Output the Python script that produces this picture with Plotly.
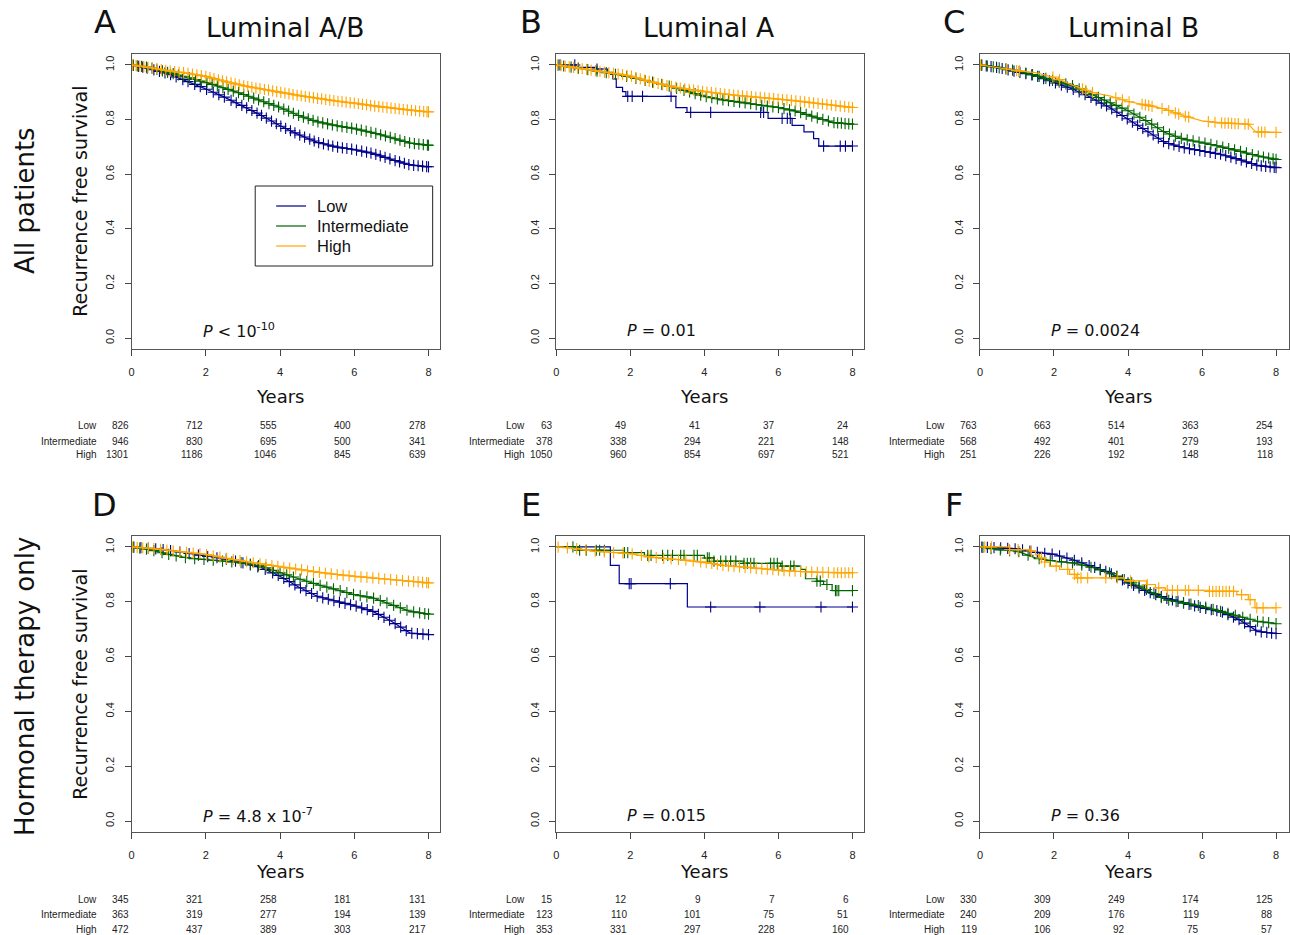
import numpy as np
import plotly.graph_objects as go

W, H = 1290, 935
BLUE, GREEN, ORANGE = '#00008B', '#006400', '#FFA500'
TF = 'DejaVu Sans'
SF = 'Liberation Sans, Arial, sans-serif'

GROUPS = ['Low', 'Intermediate', 'High']
RISK_T = [0, 2, 4, 6, 8]
YT = [0, 0.2, 0.4, 0.6, 0.8, 1.0]
YTT = ['0.0', '0.2', '0.4', '0.6', '0.8', '1.0']
T17 = [0, 0.5, 1, 1.5, 2, 2.5, 3, 3.5, 4, 4.5, 5, 5.5, 6, 6.5, 7, 7.5, 8]

# ---------------- Panel A : Luminal A/B, all patients ----------------
A_low_t = T17
A_low_s = [1, 0.986, 0.967, 0.94, 0.912, 0.882, 0.85, 0.815, 0.777, 0.745, 0.717, 0.70, 0.69, 0.676, 0.654, 0.634, 0.627]
A_low_c = [0.05, 0.18, 0.3, 0.42, 0.6, 0.75, 0.9, 1.05, 1.2, 1.38, 1.52, 1.7, 1.85, 2.02, 2.2, 2.35, 2.5, 2.68, 2.82, 2.97,
           3.1, 3.24, 3.38, 3.5, 3.63, 3.77, 3.9, 4.02, 4.15, 4.28, 4.4, 4.53, 4.66, 4.8, 4.92, 5.04, 5.17, 5.3, 5.42, 5.55,
           5.68, 5.8, 5.93, 6.06, 6.2, 6.33, 6.45, 6.58, 6.7, 6.83, 6.96, 7.1, 7.22, 7.35, 7.47, 7.6, 7.72, 7.84, 7.95, 8.0]
A_int_t = T17
A_int_s = [1, 0.99, 0.972, 0.955, 0.936, 0.915, 0.893, 0.868, 0.844, 0.815, 0.792, 0.778, 0.767, 0.752, 0.734, 0.714, 0.706]
A_int_c = [0.04, 0.15, 0.27, 0.4, 0.55, 0.68, 0.83, 0.97, 1.12, 1.26, 1.4, 1.56, 1.72, 1.88, 2.03, 2.17, 2.31, 2.46, 2.6,
           2.74, 2.88, 3.02, 3.15, 3.29, 3.42, 3.56, 3.7, 3.83, 3.96, 4.1, 4.23, 4.36, 4.5, 4.63, 4.76, 4.89, 5.02, 5.15,
           5.28, 5.41, 5.54, 5.67, 5.8, 5.93, 6.06, 6.19, 6.32, 6.45, 6.58, 6.71, 6.84, 6.97, 7.1, 7.23, 7.36, 7.49, 7.62,
           7.74, 7.86, 7.97, 8.0]
A_high_t = T17
A_high_s = [1, 0.99, 0.978, 0.97, 0.958, 0.94, 0.924, 0.912, 0.90, 0.888, 0.878, 0.868, 0.86, 0.85, 0.842, 0.834, 0.828]
A_high_c = [0.03, 0.12, 0.22, 0.33, 0.44, 0.56, 0.68, 0.8, 0.92, 1.04, 1.16, 1.28, 1.4, 1.52, 1.64, 1.76, 1.88, 2.0, 2.11,
            2.22, 2.34, 2.45, 2.56, 2.68, 2.79, 2.9, 3.02, 3.13, 3.24, 3.35, 3.46, 3.58, 3.69, 3.8, 3.91, 4.02, 4.13, 4.24,
            4.35, 4.46, 4.57, 4.68, 4.79, 4.9, 5.01, 5.12, 5.23, 5.34, 5.45, 5.56, 5.67, 5.78, 5.89, 6.0, 6.11, 6.22, 6.33,
            6.44, 6.55, 6.66, 6.77, 6.88, 6.99, 7.1, 7.21, 7.32, 7.43, 7.54, 7.65, 7.76, 7.87, 7.96, 8.0]
A_risk_low = [826, 712, 555, 400, 278]
A_risk_int = [946, 830, 695, 500, 341]
A_risk_high = [1301, 1186, 1046, 845, 639]

# ---------------- Panel B : Luminal A, all patients ----------------
B_low_t = [0, 0.58, 1.08, 1.39, 1.53, 1.62, 1.79, 1.88, 3.23, 3.53, 5.72, 6.37, 6.69, 6.95, 7.09, 8.0]
B_low_s = [1, 0.991, 0.985, 0.973, 0.949, 0.918, 0.902, 0.885, 0.844, 0.826, 0.804, 0.779, 0.755, 0.73, 0.703, 0.703]
B_low_c = [0.1, 0.5, 1.1, 1.93, 2.05, 2.33, 3.10, 3.63, 4.17, 5.52, 5.6, 6.10, 6.24, 6.32, 7.22, 7.67, 7.81, 8.0]
B_int_t = T17
B_int_s = [1, 0.99, 0.98, 0.968, 0.955, 0.94, 0.924, 0.905, 0.885, 0.872, 0.863, 0.853, 0.844, 0.83, 0.808, 0.789, 0.783]
B_int_c = [0.05, 0.2, 0.4, 0.6, 0.85, 1.1, 1.35, 1.6, 1.9, 2.15, 2.4, 2.6, 2.85, 3.05, 3.25, 3.45, 3.6, 3.75, 3.9, 4.05,
           4.2, 4.35, 4.5, 4.65, 4.8, 4.95, 5.1, 5.25, 5.4, 5.55, 5.7, 5.85, 6.0, 6.15, 6.3, 6.45, 6.6, 6.75, 6.9, 7.05,
           7.2, 7.35, 7.5, 7.6, 7.7, 7.8, 7.9, 8.0]
B_high_t = T17
B_high_s = [1, 0.99, 0.98, 0.97, 0.96, 0.94, 0.924, 0.912, 0.902, 0.894, 0.887, 0.881, 0.875, 0.868, 0.86, 0.852, 0.844]
B_high_c = [0.03, 0.13, 0.24, 0.35, 0.47, 0.58, 0.7, 0.82, 0.94, 1.06, 1.18, 1.3, 1.42, 1.55, 1.67, 1.79, 1.91, 2.03,
            2.15, 2.27, 2.39, 2.51, 2.63, 2.75, 2.87, 2.99, 3.11, 3.23, 3.35, 3.47, 3.59, 3.71, 3.83, 3.95, 4.07, 4.19,
            4.31, 4.43, 4.55, 4.67, 4.79, 4.91, 5.03, 5.15, 5.27, 5.39, 5.51, 5.63, 5.75, 5.87, 5.99, 6.11, 6.23, 6.35,
            6.47, 6.59, 6.71, 6.83, 6.95, 7.07, 7.19, 7.31, 7.43, 7.55, 7.67, 7.79, 7.9, 8.0]
B_risk_low = [63, 49, 41, 37, 24]
B_risk_int = [378, 338, 294, 221, 148]
B_risk_high = [1050, 960, 854, 697, 521]

# ---------------- Panel C : Luminal B, all patients ----------------
C_low_t = T17
C_low_s = [1, 0.99, 0.975, 0.961, 0.936, 0.912, 0.881, 0.844, 0.801, 0.759, 0.716, 0.697, 0.685, 0.673, 0.654, 0.632, 0.624]
C_low_c = [0.05, 0.17, 0.3, 0.45, 0.6, 0.76, 0.92, 1.08, 1.24, 1.4, 1.56, 1.72, 1.88, 2.04, 2.2, 2.36, 2.52, 2.68, 2.84,
           3.0, 3.14, 3.28, 3.42, 3.56, 3.7, 3.84, 3.98, 4.12, 4.26, 4.4, 4.54, 4.68, 4.82, 4.96, 5.1, 5.24, 5.38, 5.52,
           5.66, 5.8, 5.94, 6.08, 6.22, 6.36, 6.5, 6.64, 6.78, 6.92, 7.06, 7.2, 7.34, 7.48, 7.6, 7.72, 7.84, 7.95, 8.0]
C_int_t = T17
C_int_s = [1, 0.99, 0.978, 0.962, 0.942, 0.924, 0.893, 0.863, 0.832, 0.795, 0.753, 0.728, 0.716, 0.701, 0.685, 0.667, 0.654]
C_int_c = [0.04, 0.2, 0.36, 0.52, 0.7, 0.88, 1.06, 1.24, 1.42, 1.6, 1.78, 1.96, 2.14, 2.32, 2.5, 2.68, 2.86, 3.04, 3.2,
           3.36, 3.52, 3.68, 3.84, 4.0, 4.16, 4.32, 4.48, 4.64, 4.8, 4.96, 5.12, 5.28, 5.44, 5.6, 5.76, 5.92, 6.08, 6.24,
           6.4, 6.56, 6.72, 6.88, 7.04, 7.2, 7.36, 7.52, 7.66, 7.8, 7.92, 8.0]
C_high_t = [0, 0.5, 1, 1.5, 2, 2.5, 3, 3.5, 4, 4.5, 5, 5.5, 6, 6.5, 7.25, 7.45, 8]
C_high_s = [1, 0.99, 0.979, 0.972, 0.955, 0.926, 0.9, 0.887, 0.866, 0.853, 0.838, 0.814, 0.795, 0.788, 0.783, 0.755, 0.753]
C_high_c = [0.02, 0.72, 0.99, 1.07, 1.97, 2.15, 2.77, 2.86, 3.04, 3.67, 3.85, 4.03, 4.38, 4.47, 4.56, 4.65, 4.92, 5.1,
            5.28, 5.37, 5.55, 5.64, 6.17, 6.35, 6.53, 6.62, 6.71, 6.8, 6.89, 6.98, 7.16, 7.25, 7.52, 7.61, 7.7, 8.0]
C_risk_low = [763, 663, 514, 363, 254]
C_risk_int = [568, 492, 401, 279, 193]
C_risk_high = [251, 226, 192, 148, 118]

# ---------------- Panel D : Luminal A/B, hormonal therapy ----------------
D_low_t = T17
D_low_s = [1, 0.995, 0.988, 0.977, 0.966, 0.957, 0.942, 0.924, 0.893, 0.854, 0.82, 0.802, 0.786, 0.765, 0.729, 0.686, 0.68]
D_low_c = [0.06, 0.25, 0.45, 0.65, 0.85, 1.05, 1.3, 1.55, 1.8, 2.05, 2.3, 2.55, 2.8, 3.0, 3.2, 3.4, 3.6, 3.8, 3.95, 4.1,
           4.25, 4.4, 4.55, 4.7, 4.85, 5.0, 5.15, 5.3, 5.45, 5.6, 5.75, 5.9, 6.05, 6.2, 6.35, 6.5, 6.65, 6.8, 6.95, 7.1,
           7.25, 7.4, 7.55, 7.7, 7.85, 8.0]
D_int_t = T17
D_int_s = [1, 0.99, 0.973, 0.96, 0.954, 0.948, 0.942, 0.93, 0.906, 0.884, 0.863, 0.845, 0.826, 0.814, 0.79, 0.765, 0.755]
D_int_c = [0.05, 0.22, 0.4, 0.6, 0.82, 1.0, 1.2, 1.45, 1.7, 1.95, 2.2, 2.45, 2.7, 2.95, 3.2, 3.42, 3.62, 3.82, 4.0, 4.18,
           4.36, 4.54, 4.72, 4.9, 5.08, 5.26, 5.44, 5.62, 5.8, 5.98, 6.16, 6.34, 6.52, 6.7, 6.88, 7.06, 7.24, 7.42, 7.6,
           7.76, 7.9, 8.0]
D_high_t = T17
D_high_s = [1, 0.995, 0.988, 0.98, 0.973, 0.96, 0.948, 0.938, 0.928, 0.918, 0.908, 0.9, 0.893, 0.887, 0.881, 0.875, 0.869]
D_high_c = [0.03, 0.15, 0.3, 0.45, 0.6, 0.78, 0.95, 1.12, 1.3, 1.48, 1.66, 1.84, 2.02, 2.2, 2.38, 2.56, 2.74, 2.92, 3.1,
            3.28, 3.46, 3.62, 3.78, 3.94, 4.1, 4.26, 4.42, 4.58, 4.74, 4.9, 5.06, 5.22, 5.38, 5.54, 5.7, 5.86, 6.02,
            6.18, 6.34, 6.5, 6.66, 6.82, 6.98, 7.14, 7.3, 7.46, 7.6, 7.72, 7.84, 7.95, 8.0]
D_risk_low = [345, 321, 258, 181, 131]
D_risk_int = [363, 319, 277, 194, 139]
D_risk_high = [472, 437, 389, 303, 217]

# ---------------- Panel E : Luminal A, hormonal therapy ----------------
E_low_t = [0, 1.46, 1.70, 3.54, 8.0]
E_low_s = [1, 0.933, 0.866, 0.781, 0.781]
E_low_c = [1.97, 2.02, 3.08, 4.17, 5.50, 7.15, 8.0]
E_int_t = [0, 0.58, 1.84, 2.38, 4.0, 4.26, 5.07, 6.06, 6.6, 6.73, 7.04, 7.22, 7.45, 8.0]
E_int_s = [1, 0.988, 0.979, 0.969, 0.96, 0.948, 0.94, 0.93, 0.918, 0.884, 0.875, 0.863, 0.841, 0.841]
E_int_c = [0.45, 0.63, 0.81, 1.08, 1.17, 1.3, 1.84, 1.93, 2.47, 2.56, 2.87, 3.01, 3.14, 3.36, 3.45, 3.72, 3.81, 4.08,
           4.13, 4.26, 4.44, 4.58, 4.71, 4.85, 5.07, 5.16, 5.25, 5.34, 5.79, 5.88, 5.97, 6.1, 6.33, 6.42, 7.04, 7.13,
           7.31, 7.54, 7.58, 7.63, 8.0]
E_high_t = T17
E_high_s = [1, 0.995, 0.985, 0.98, 0.976, 0.964, 0.957, 0.952, 0.944, 0.933, 0.927, 0.921, 0.915, 0.911, 0.908, 0.906, 0.906]
E_high_c = [0.05, 0.3, 0.55, 0.8, 1.05, 1.3, 1.55, 1.8, 2.05, 2.3, 2.5, 2.7, 2.9, 3.1, 3.3, 3.5, 3.7, 3.9, 4.05, 4.2,
            4.35, 4.5, 4.65, 4.8, 4.95, 5.1, 5.25, 5.4, 5.55, 5.7, 5.85, 6.0, 6.15, 6.3, 6.45, 6.6, 6.75, 6.9, 7.05,
            7.2, 7.35, 7.5, 7.6, 7.7, 7.8, 7.9, 8.0]
E_risk_low = [15, 12, 9, 7, 6]
E_risk_int = [123, 110, 101, 75, 51]
E_risk_high = [353, 331, 297, 228, 160]

# ---------------- Panel F : Luminal B, hormonal therapy ----------------
F_low_t = T17
F_low_s = [1, 0.997, 0.993, 0.981, 0.973, 0.954, 0.93, 0.906, 0.869, 0.838, 0.814, 0.796, 0.778, 0.765, 0.735, 0.692, 0.684]
F_low_c = [0.05, 0.2, 0.38, 0.56, 0.75, 0.95, 1.15, 1.35, 1.55, 1.75, 1.95, 2.15, 2.35, 2.55, 2.75, 2.95, 3.1, 3.25,
           3.4, 3.55, 3.7, 3.85, 4.0, 4.15, 4.3, 4.45, 4.6, 4.75, 4.9, 5.05, 5.2, 5.35, 5.5, 5.65, 5.8, 5.95, 6.1, 6.25,
           6.4, 6.55, 6.7, 6.85, 7.0, 7.15, 7.3, 7.45, 7.6, 7.75, 7.88, 8.0]
F_int_t = T17
F_int_s = [1, 0.99, 0.985, 0.96, 0.948, 0.942, 0.926, 0.906, 0.875, 0.845, 0.808, 0.796, 0.784, 0.765, 0.747, 0.729, 0.72]
F_int_c = [0.08, 0.3, 0.55, 0.8, 1.05, 1.3, 1.6, 1.9, 2.2, 2.5, 2.75, 3.0, 3.25, 3.5, 3.7, 3.9, 4.1, 4.3, 4.5, 4.7,
           4.9, 5.1, 5.3, 5.5, 5.7, 5.9, 6.1, 6.3, 6.5, 6.7, 6.9, 7.1, 7.3, 7.5, 7.65, 7.8, 8.0]
F_high_t = [0, 0.8, 1.34, 1.5, 1.61, 1.75, 1.88, 2.15, 2.42, 2.6, 3.9, 4.5, 4.74, 5.01, 6.17, 6.94, 7.25, 7.43, 8.0]
F_high_s = [1, 0.99, 0.985, 0.972, 0.96, 0.945, 0.93, 0.918, 0.9, 0.887, 0.876, 0.863, 0.851, 0.842, 0.838, 0.826, 0.808, 0.778, 0.778]
F_high_c = [0.13, 0.31, 0.8, 1.03, 1.39, 1.66, 1.75, 2.06, 2.37, 2.55, 2.64, 2.73, 2.91, 3.4, 3.71, 4.07, 4.52, 4.83,
            5.06, 5.2, 5.34, 5.55, 5.64, 5.9, 6.2, 6.29, 6.38, 6.47, 6.56, 6.65, 6.74, 6.85, 7.07, 7.3, 7.48, 7.65, 8.0]
F_risk_low = [330, 309, 249, 174, 125]
F_risk_int = [240, 209, 176, 119, 88]
F_risk_high = [119, 106, 92, 75, 57]

# ---------------- layout constants (pixels) ----------------
COL_PX = [(129, 438), (555, 864), (980, 1290)]
ROW_PX = [(54, 349), (536, 832)]
XMAX = [8.3, 8.32, 8.35]
RISK_ROWS_PX = [(425, 441, 455), (899, 914, 929)]
LABEL_RIGHT_PX = [96, 526, 947]

panels = [
    dict(letter='A', title='Luminal A/B', p='<i>P</i> < 10<sup>-10</sup>',
         curves=[(A_low_t, A_low_s, A_low_c, 'linear'), (A_int_t, A_int_s, A_int_c, 'linear'), (A_high_t, A_high_s, A_high_c, 'linear')],
         risk=[A_risk_low, A_risk_int, A_risk_high]),
    dict(letter='B', title='Luminal A', p='<i>P</i> = 0.01',
         curves=[(B_low_t, B_low_s, B_low_c, 'hv'), (B_int_t, B_int_s, B_int_c, 'linear'), (B_high_t, B_high_s, B_high_c, 'linear')],
         risk=[B_risk_low, B_risk_int, B_risk_high]),
    dict(letter='C', title='Luminal B', p='<i>P</i> = 0.0024',
         curves=[(C_low_t, C_low_s, C_low_c, 'linear'), (C_int_t, C_int_s, C_int_c, 'linear'), (C_high_t, C_high_s, C_high_c, 'linear')],
         risk=[C_risk_low, C_risk_int, C_risk_high]),
    dict(letter='D', title=None, p='<i>P</i> = 4.8 x 10<sup>-7</sup>',
         curves=[(D_low_t, D_low_s, D_low_c, 'linear'), (D_int_t, D_int_s, D_int_c, 'linear'), (D_high_t, D_high_s, D_high_c, 'linear')],
         risk=[D_risk_low, D_risk_int, D_risk_high]),
    dict(letter='E', title=None, p='<i>P</i> = 0.015',
         curves=[(E_low_t, E_low_s, E_low_c, 'hv'), (E_int_t, E_int_s, E_int_c, 'hv'), (E_high_t, E_high_s, E_high_c, 'linear')],
         risk=[E_risk_low, E_risk_int, E_risk_high]),
    dict(letter='F', title=None, p='<i>P</i> = 0.36',
         curves=[(F_low_t, F_low_s, F_low_c, 'linear'), (F_int_t, F_int_s, F_int_c, 'linear'), (F_high_t, F_high_s, F_high_c, 'hv')],
         risk=[F_risk_low, F_risk_int, F_risk_high]),
]
COLORS = [BLUE, GREEN, ORANGE]


def cens_y(t, s, c, shape):
    t = np.asarray(t, float)
    s = np.asarray(s, float)
    c = np.asarray(c, float)
    if shape == 'hv':
        idx = np.clip(np.searchsorted(t, c, side='right') - 1, 0, len(s) - 1)
        return s[idx]
    return np.interp(c, t, s)


fig = go.Figure()
annotations = []
shapes = []
layout_axes = {}

for i, pn in enumerate(panels):
    k = i + 1
    r, cidx = divmod(i, 3)
    xs = '' if k == 1 else str(k)
    xref, yref = 'x' + xs, 'y' + xs
    x0, x1 = COL_PX[cidx]
    y0, y1 = ROW_PX[r]
    layout_axes['xaxis' + xs] = dict(
        domain=[x0 / W, x1 / W], range=[0, XMAX[cidx]], anchor=yref,
        tickvals=RISK_T, ticktext=[str(v) for v in RISK_T], ticks='outside', ticklen=6,
        tickcolor='#444', showline=True, mirror=True, linecolor='#555', linewidth=1,
        showgrid=False, zeroline=False, tickfont=dict(family=SF, size=11, color='#222'),
        ticklabelstandoff=7, fixedrange=True)
    layout_axes['yaxis' + xs] = dict(
        domain=[1 - y1 / H, 1 - y0 / H], range=[-0.04, 1.04], anchor=xref,
        tickvals=YT, ticktext=YTT, tickangle=-90, ticks='outside', ticklen=6,
        tickcolor='#444', showline=True, mirror=True, linecolor='#555', linewidth=1,
        showgrid=False, zeroline=False, tickfont=dict(family=SF, size=11, color='#222'),
        ticklabelstandoff=6, fixedrange=True)

    for (t, s, c, shape), col in zip(pn['curves'], COLORS):
        fig.add_trace(go.Scatter(x=t, y=s, mode='lines', line=dict(color=col, width=1.2, shape=shape),
                                 xaxis=xref, yaxis=yref, hoverinfo='skip'))
        fig.add_trace(go.Scatter(x=c, y=cens_y(t, s, c, shape), mode='markers',
                                 marker=dict(symbol='cross-thin-open', size=8, color=col,
                                             line=dict(width=1.1, color=col)),
                                 xaxis=xref, yaxis=yref, hoverinfo='skip'))

    # P value text
    annotations.append(dict(x=2, y=0.026 if r == 0 else 0.022, xref=xref, yref=yref, text=pn['p'],
                            showarrow=False, xanchor='left', yanchor='middle', xshift=-5,
                            font=dict(family=TF, size=16, color='#111')))
    # Years
    annotations.append(dict(x=4, y=1 - (397 if r == 0 else 871) / H, xref=xref, yref='paper', text='Years',
                            showarrow=False, xanchor='center', yanchor='middle',
                            font=dict(family=TF, size=18, color='#111')))
    # panel letter
    annotations.append(dict(x=[102, 530, 954][cidx] / W, y=1 - (22 if r == 0 else 505) / H,
                            xref='paper', yref='paper', text=pn['letter'], showarrow=False,
                            xanchor='center', yanchor='middle', font=dict(family=TF, size=32, color='#111')))
    if pn['title']:
        annotations.append(dict(x=[283, 708, 1134][cidx] / W, y=1 - 27 / H, xref='paper', yref='paper',
                                text=pn['title'], showarrow=False, xanchor='center', yanchor='middle',
                                font=dict(family=TF, size=26.5, color='#111')))
    if cidx == 0:
        annotations.append(dict(x=77 / W, y=1 - (201 if r == 0 else 684) / H, xref='paper', yref='paper',
                                text='Recurrence free survival', textangle=-90, showarrow=False,
                                xanchor='center', yanchor='middle', font=dict(family=TF, size=19, color='#111')))
    # at-risk table
    for g, (lab, vals) in enumerate(zip(GROUPS, pn['risk'])):
        ypx = RISK_ROWS_PX[r][g]
        annotations.append(dict(x=LABEL_RIGHT_PX[cidx] / W, y=1 - ypx / H, xref='paper', yref='paper',
                                text=lab, showarrow=False, xanchor='right', yanchor='middle',
                                font=dict(family=SF, size=10, color='#222')))
        for tv, v in zip(RISK_T, vals):
            annotations.append(dict(x=tv, y=1 - ypx / H, xref=xref, yref='paper', text=str(v),
                                    showarrow=False, xanchor='right', yanchor='middle', xshift=-1,
                                    font=dict(family=SF, size=10, color='#222')))

# row labels
annotations.append(dict(x=22 / W, y=1 - 200 / H, xref='paper', yref='paper', text='All patients',
                        textangle=-90, showarrow=False, xanchor='center', yanchor='middle',
                        font=dict(family=TF, size=26, color='#111')))
annotations.append(dict(x=22 / W, y=1 - 686 / H, xref='paper', yref='paper', text='Hormonal therapy only',
                        textangle=-90, showarrow=False, xanchor='center', yanchor='middle',
                        font=dict(family=TF, size=26, color='#111')))

# legend in panel A (drawn in pixel layout coordinates)
LEG_BOX = (253, 186, 431, 266)
shapes.append(dict(type='rect', xref='paper', yref='paper', x0=LEG_BOX[0] / W, x1=LEG_BOX[2] / W,
                   y0=1 - LEG_BOX[3] / H, y1=1 - LEG_BOX[1] / H, line=dict(color='#222', width=1),
                   fillcolor='white', layer='above'))
for g, (lab, col) in enumerate(zip(GROUPS, COLORS)):
    ly = 206 + 20 * g
    shapes.append(dict(type='line', xref='paper', yref='paper', x0=274 / W, x1=304 / W,
                       y0=1 - ly / H, y1=1 - ly / H, line=dict(color=col, width=1.2), layer='above'))
    annotations.append(dict(x=313 / W, y=1 - ly / H, xref='paper', yref='paper', text=lab, showarrow=False,
                            xanchor='left', yanchor='middle', font=dict(family=SF, size=16.5, color='#111')))

fig.update_layout(width=W, height=H, margin=dict(l=0, r=0, t=0, b=0), plot_bgcolor='white',
                  paper_bgcolor='white', showlegend=False, annotations=annotations, shapes=shapes,
                  **layout_axes)
fig.write_html('out.html', config={'displayModeBar': False},
               post_script="document.body.style.margin='0';document.body.style.overflow='hidden';")
